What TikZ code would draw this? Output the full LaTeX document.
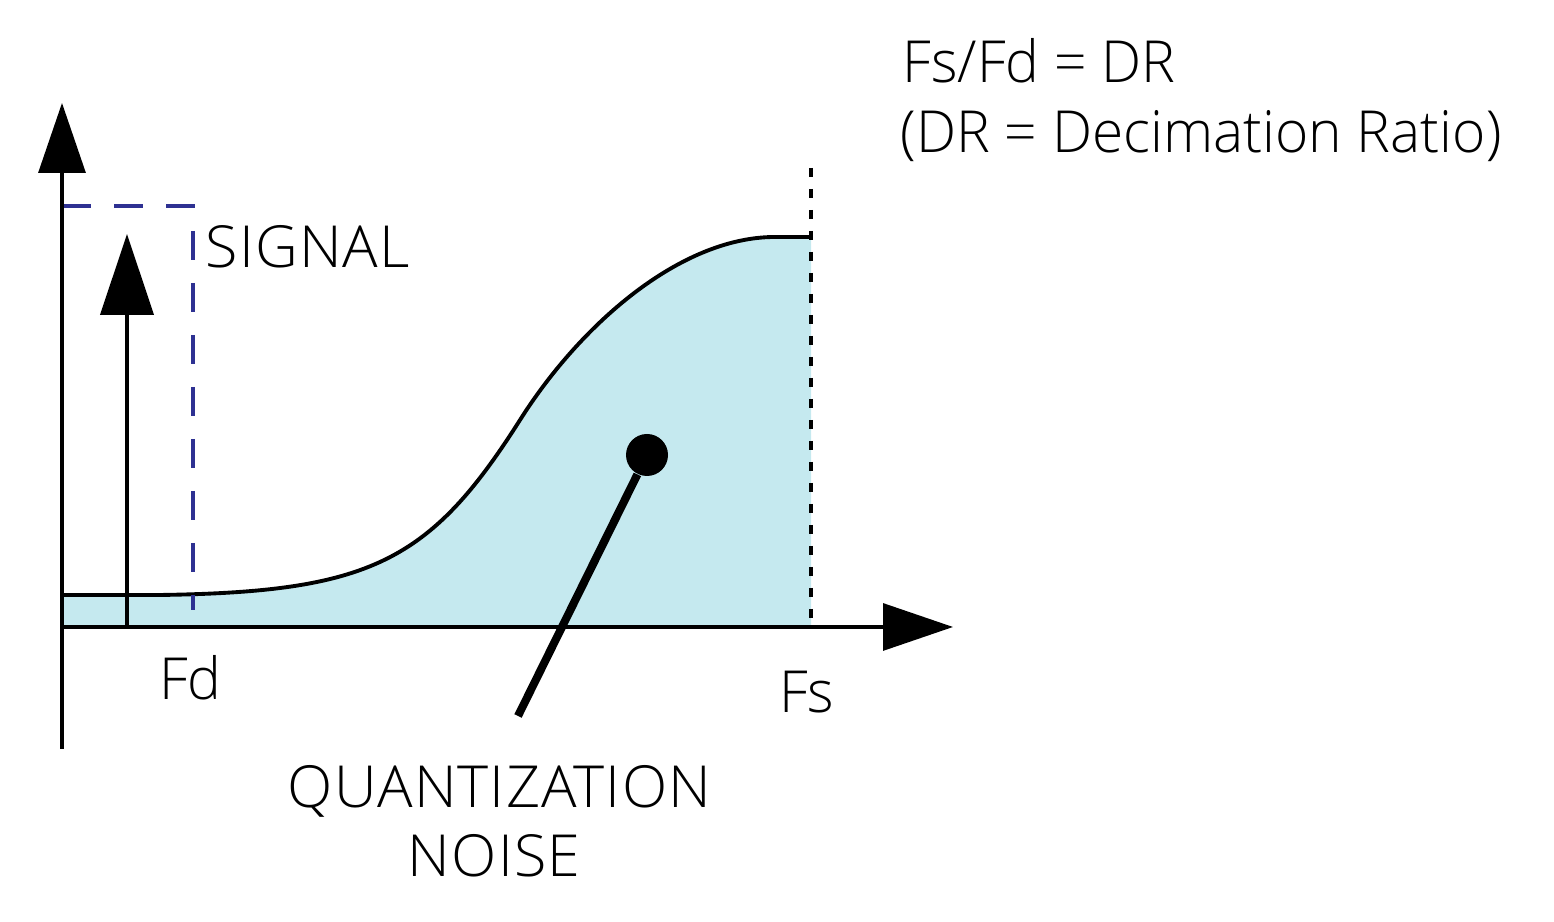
\documentclass[tikz,border=0pt]{standalone}
\usepackage{fontspec}
\setmainfont{Open Sans}[UprightFont={* Light}, FakeStretch=0.98]
\newfontfamily\capsfont{Open Sans}[UprightFont={* Light}, FakeStretch=1.02, LetterSpace=2]
\usetikzlibrary{arrows.meta, positioning}

\definecolor{noisefill}{HTML}{C5E9EF}
\definecolor{signalnavy}{HTML}{2E3192}

\tikzset{
    lbl/.style={inner sep=0pt, font=\fontsize{16.5}{20}\selectfont},
    caps/.style={lbl, font=\fontsize{16.5}{20}\capsfont},
    axis/.style={line width=0.9pt, -{Triangle[length=0.7cm, width=0.47cm]}},
}

\begin{document}
\begin{tikzpicture}
        \useasboundingbox (0,0) rectangle (15.54,9.22);

        % axes and reference points
        \coordinate (o) at (0.62,2.95);
        \coordinate (ybot) at (0.62,1.73);
        \coordinate (ytop) at (0.62,8.19);
        \coordinate (xtop) at (9.53,2.95);
        \coordinate (sbase) at (1.27,2.95);
        \coordinate (stop) at (1.27,6.88);
        \coordinate (fstop) at (8.11,7.54);
        \coordinate (fsbot) at (8.11,2.95);
        \coordinate (lead) at (5.18,2.06);

        % noise shape
        \fill[noisefill] (0.62,2.95) -- (0.62,3.27) -- (1.6,3.27)
            .. controls (3.7,3.30) and (4.3,3.6) .. (5.2,5.02)
            .. controls (5.8,5.97) and (6.8,6.85) .. (7.75,6.85)
            -- (8.11,6.85) -- (8.11,2.95) -- cycle;
        \draw[line width=1.1pt] (0.62,3.27) -- (1.6,3.27)
            .. controls (3.7,3.30) and (4.3,3.6) .. (5.2,5.02)
            .. controls (5.8,5.97) and (6.8,6.85) .. (7.75,6.85)
            -- (8.11,6.85);

        % signal band
        \draw[signalnavy, line width=1.1pt, dash pattern=on 0.29cm off 0.23cm]
            (0.62,7.16) -- (1.93,7.16) -- (1.93,3.12);
        \draw[line width=1pt, dash pattern=on 0.09cm off 0.12cm] (fstop) -- (fsbot);

        \draw[axis] (ybot) -- (ytop);
        \draw[axis] (o) -- (xtop);
        \draw[line width=1.1pt, -{Triangle[length=0.81cm, width=0.53cm]}] (sbase) -- (stop);

        % labels
        \node[caps, anchor=base west] (signal) at (2.05,6.54) {SIGNAL};
        \node[lbl, anchor=base] (fd) at (1.905,2.22) {Fd};
        \node[lbl, anchor=base] (fs) at (8.065,2.09) {Fs};
        \node[caps, anchor=base] (quant) at (4.995,1.14) {QUANTIZATION};
        \node[caps, anchor=base] (noise) at (4.94,0.45) {NOISE};
        \node[lbl, anchor=base west] (ratio) at (9.02,8.39) {Fs/Fd = DR};
        \node[lbl, anchor=base west] (dr) at (9.00,7.69) {(DR = Decimation Ratio)};

        \node[circle, fill, inner sep=0pt, minimum size=0.42cm] (dot) at (6.47,4.67) {};
        \draw[line width=2.3pt] (dot) -- (lead);
\end{tikzpicture}
\end{document}
